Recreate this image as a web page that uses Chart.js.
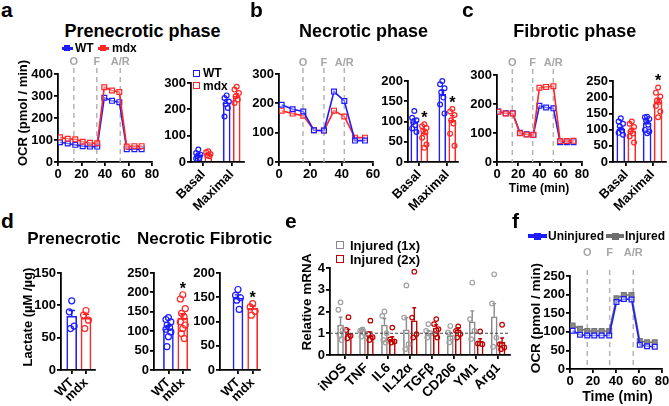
<!DOCTYPE html>
<html>
<head>
<meta charset="utf-8">
<script src="https://cdn.jsdelivr.net/npm/chart.js@4.4.0/dist/chart.umd.min.js"></script>
<style>
html, body { margin: 0; padding: 0; background: #fff; overflow: hidden; }
#fig { position: relative; width: 669px; height: 406px; overflow: hidden; }
#fig canvas { position: absolute; }
.t { position: absolute; white-space: nowrap; line-height: 1; }
.m { position: absolute; box-sizing: border-box; }
</style>
</head>
<body>
<div id="fig"></div>
<script>
// ---------- data ----------
const injectLabels = ['O', 'F', 'A/R'];
const phases = ['Basal', 'Maximal'];
const genotypes = ['WT', 'mdx'];

// a  prenecrotic
const aTime = [1.7, 8.3, 14.7, 21, 27.2, 33.4, 39.4, 46, 52.2, 58.5, 65, 71.2];
const aWT   = [90, 84, 78, 72, 70, 70, 292, 278, 272, 58, 58, 58];
const aMdx  = [112, 106, 103, 92, 87, 85, 340, 325, 318, 70, 72, 72];
const aInject = [13.5, 33, 53];
const aBarWT = [28, 225], aSemWT = [5, 12];
const aBarMdx = [31, 250], aSemMdx = [3, 9];
const aPtsWT = [[47, 34, 28, 22, 15, 13], [253, 243, 230, 220, 205, 173]];
const aPtsMdx = [[41, 37, 30, 25, 22], [286, 275, 262, 249, 237, 224]];

// b  necrotic
const bTime = [1.7, 8.7, 15.5, 22.3, 28.7, 35.1, 41.7, 48.5, 54.9];
const bWT   = [195, 180, 172, 108, 107, 240, 208, 73, 73];
const bMdx  = [175, 165, 158, 108, 107, 175, 155, 83, 83];
const bInject = [15.3, 28.7, 41.7];
const bBarWT = [100, 167], bSemWT = [6, 10];
const bBarMdx = [72, 103], bSemMdx = [8, 12];
const bPtsWT = [[126, 109, 103, 99, 91, 83, 74], [200, 192, 182, 172, 159, 142, 120]];
const bPtsMdx = [[93, 88, 84, 78, 73, 60, 43, 35], [131, 125, 116, 103, 95, 70, 40]];
const bStars = [true, true];

// c  fibrotic
const cTime = [1.2, 8.2, 14.8, 21.6, 27.9, 34.2, 39.9, 46.2, 53.1, 59.4, 65.7, 72];
const cWT   = [174, 168, 168, 101, 96, 94, 194, 188, 185, 68, 68, 68];
const cMdx  = [173, 167, 167, 99, 95, 93, 256, 259, 261, 72, 72, 73];
const cInject = [14.4, 33.6, 53];
const cBarWT = [101, 120], cSemWT = [6, 7];
const cBarMdx = [96, 186], cSemMdx = [8, 10];
const cPtsWT = [[135, 125, 118, 110, 97, 90, 84], [140, 138, 133, 128, 115, 99, 94, 89]];
const cPtsMdx = [[125, 118, 108, 94, 88, 79, 60], [230, 214, 202, 190, 186, 173, 156, 138]];
const cStars = [false, true];

// d  lactate
const dPreBar = [83, 80], dPreSem = [9, 6];
const dPreWT = [107, 90, 68, 64], dPreMdx = [92, 85, 77, 64];
const dNecBar = [106, 134], dNecSem = [8, 11];
const dNecWT = [135, 130, 124, 116, 110, 105, 98, 86, 60];
const dNecMdx = [194, 183, 158, 146, 137, 124, 116, 107, 94, 81];
const dFibBar = [148, 127], dFibSem = [7, 5];
const dFibWT = [166, 154, 149, 144, 125], dFibMdx = [137, 130, 121, 113];

// e  relative mRNA
const eCats = ['iNOS', 'TNF', 'IL6', 'IL12α', 'TGFβ', 'CD206', 'YM1', 'Arg1'];
const e1Mean = [1.38, 1.18, 1.38, 1.16, 1.0, 0.89, 1.53, 1.76];
const e1Sem  = [0.36, 0.08, 0.3, 0.55, 0.12, 0.15, 0.5, 0.6];
const e2Mean = [0.97, 0.88, 0.72, 1.57, 1.24, 1.16, 0.63, 0.58];
const e2Sem  = [0.2, 0.18, 0.12, 0.6, 0.15, 0.1, 0.12, 0.2];
const e1Pts = [[2.42, 2.08, 1.15, 0.92, 0.69], [1.18, 1.12, 1.0, 0.85], [2.0, 1.8, 1.0, 0.69, 0.57],
               [3.2, 1.72, 0.5, 0.27], [1.42, 1.11, 1.0, 0.8], [1.33, 1.04, 0.8, 0.58],
               [3.33, 1.65, 1.11, 0.73], [3.71, 2.37, 0.8, 0.38]];
const e2Pts = [[1.74, 1.15, 0.88, 0.77], [1.58, 0.97, 0.82, 0.69], [1.26, 0.72, 0.62, 0.57],
               [3.83, 1.72, 0.96, 0.8], [1.65, 1.42, 1.19, 0.96, 0.8], [1.31, 1.11, 0.96, 0.8],
               [1.08, 0.53, 0.5], [1.39, 0.5, 0.35, 0.27]];

// f  uninjured vs injured
const fTime = [2.3, 8.7, 15, 21.1, 27.5, 34.1, 40.4, 46.8, 53.5, 60.7, 67, 73.7];
const fUninj = [103, 92, 90, 90, 90, 90, 180, 188, 187, 65, 61, 60];
const fInj   = [117, 108, 102, 102, 102, 102, 190, 199, 199, 75, 72, 72];
const fInject = [15, 34.5, 55];

// ---------- styling ----------
const FONT = '"Liberation Sans", Arial, Helvetica, sans-serif';
const BLUE = '#1c1cff', RED = '#ff2626', GRAY = '#8a8a8a', DRED = '#c00000';
const JIT = [0, -1, 1, -0.5, 0.5, -1, 1, 0, -0.6, 0.6];

Chart.defaults.font.family = FONT;
Chart.defaults.font.weight = 'bold';
Chart.defaults.font.size = 13;
Chart.defaults.color = '#000';

const fig = document.getElementById('fig');

// dashed injection lines, error bars, stars, reference line
Chart.register({
  id: 'extras',
  beforeDatasetsDraw(chart, args, o) {
    if (!o.vlines) return;
    const ctx = chart.ctx, ca = chart.chartArea, x = chart.scales.x;
    ctx.save();
    ctx.strokeStyle = '#b4b4b4'; ctx.lineWidth = 1.5; ctx.setLineDash([5, 4]);
    ctx.fillStyle = '#a6a6a6'; ctx.font = 'bold 11px ' + FONT;
    ctx.textAlign = 'center'; ctx.textBaseline = 'middle';
    o.vlines.xs.forEach((v, i) => {
      const px = x.getPixelForValue(v);
      ctx.beginPath(); ctx.moveTo(px, ca.top - 6); ctx.lineTo(px, ca.bottom); ctx.stroke();
      ctx.fillText(o.vlines.labels[i], px, ca.top - o.vlines.lift);
    });
    ctx.restore();
  },
  afterDatasetDraw(chart, args) {
    const ds = chart.data.datasets[args.index];
    if (!ds.sem) return;
    const ctx = chart.ctx, y = chart.scales.y;
    ctx.save();
    ctx.strokeStyle = ds.borderColor; ctx.lineWidth = 1.4;
    args.meta.data.forEach((el, i) => {
      const top = y.getPixelForValue(ds.data[i].y + ds.sem[i]);
      const w = ds.barThickness * 0.32;
      ctx.beginPath();
      ctx.moveTo(el.x, el.y); ctx.lineTo(el.x, top);
      ctx.moveTo(el.x - w, top); ctx.lineTo(el.x + w, top);
      ctx.stroke();
    });
    ctx.restore();
  },
  afterDatasetsDraw(chart, args, o) {
    const ctx = chart.ctx, ca = chart.chartArea, y = chart.scales.y;
    ctx.save();
    if (o.hline !== undefined) {
      const py = y.getPixelForValue(o.hline);
      ctx.strokeStyle = '#444'; ctx.lineWidth = 1; ctx.setLineDash([3, 2]);
      ctx.beginPath(); ctx.moveTo(ca.left, py); ctx.lineTo(ca.right, py); ctx.stroke();
      ctx.setLineDash([]);
    }
    ctx.fillStyle = '#000'; ctx.font = 'bold 16px ' + FONT;
    ctx.textAlign = 'center'; ctx.textBaseline = 'alphabetic';
    chart.data.datasets.forEach((ds, di) => {
      if (!ds.stars) return;
      const meta = chart.getDatasetMeta(di);
      ds.stars.forEach((s, i) => {
        if (!s) return;
        const top = Math.max(ds.data[i].y + ds.sem[i], ...ds.pts[i]);
        ctx.fillText('*', meta.data[i].x, y.getPixelForValue(top) - 1);
      });
    });
    ctx.restore();
  }
});

function axis(min, max, step, more) {
  return Object.assign({
    type: 'linear', min: min, max: max, offset: false,
    ticks: { stepSize: step, padding: 1, autoSkip: false },
    grid: { drawOnChartArea: false, drawTicks: true, tickLength: 4, color: '#000', lineWidth: 1.8, offset: false },
    border: { display: true, color: '#000', width: 1.8 }
  }, more || {});
}

// box = plot area [left, top, right, bottom] in page pixels
function place(box, cfg, o) {
  o = o || {};
  const padT = o.padT || 32, padR = o.padR || 14, yw = o.yw || 36, xh = o.xh || 60;
  const l = Math.round(box[0]), t = Math.round(box[1]), r = Math.round(box[2]), b = Math.round(box[3]);
  const cv = document.createElement('canvas');
  cv.width = r - l + yw + padR;
  cv.height = b - t + padT + xh;
  cv.style.left = (l - yw) + 'px';
  cv.style.top = (t - padT) + 'px';
  fig.appendChild(cv);
  const op = cfg.options;
  op.responsive = false;
  op.animation = false;
  op.devicePixelRatio = 1;
  op.layout = { padding: { top: padT, right: padR, left: 0, bottom: 0 } };
  op.plugins = Object.assign({ legend: { display: false }, tooltip: { enabled: false } }, op.plugins);
  op.scales.x.afterFit = s => { s.height = xh; };
  op.scales.y.afterFit = s => { s.width = yw; };
  return new Chart(cv, cfg);
}

function lineChart(box, xMax, yMax, yStep, times, series, inject, lift) {
  return place(box, {
    type: 'line',
    data: { datasets: series.map(s => ({
      data: times.map((t, i) => ({ x: t, y: s.vals[i] })),
      borderColor: s.color, borderWidth: 1.6, tension: 0,
      pointStyle: 'rect', pointRadius: 3.4, pointBorderWidth: 1.2,
      pointBorderColor: s.pcolor || s.color, pointBackgroundColor: s.fill
    })) },
    options: {
      scales: { x: axis(0, xMax, 20), y: axis(0, yMax, yStep) },
      plugins: { extras: { vlines: { xs: inject, labels: injectLabels, lift: lift } } }
    }
  }, { xh: 28 });
}

function barChart(box, xMax, tickPos, tickLabels, yMax, yStep, bars, o) {
  const datasets = [];
  bars.forEach(bs => {
    datasets.push({
      type: 'bar', order: 2, grouped: false,
      data: bs.pos.map((x, i) => ({ x: x, y: bs.means[i] })),
      sem: bs.sem, stars: bs.stars, pts: bs.pts,
      backgroundColor: '#fff', borderColor: bs.color, borderWidth: 1.6, barThickness: o.thick
    });
    const pd = [];
    bs.pts.forEach((arr, g) => arr.forEach((v, k) => pd.push({ x: bs.pos[g] + JIT[k % JIT.length] * o.jit, y: v })));
    datasets.push({
      type: 'scatter', order: 1, data: pd, clip: false,
      pointStyle: 'circle', pointRadius: o.r, pointBorderWidth: 1.2,
      pointBorderColor: bs.ptColor || bs.color, pointBackgroundColor: 'rgba(255,255,255,0)'
    });
  });
  return place(box, {
    type: 'bar',
    data: { datasets: datasets },
    options: {
      scales: {
        x: axis(0, xMax, 1, {
          afterBuildTicks: s => { s.ticks = tickPos.map(v => ({ value: v })); },
          ticks: { autoSkip: false, minRotation: 45, maxRotation: 45, padding: 1,
                   font: { size: o.fs || 13 }, callback: (v, i) => tickLabels[i] }
        }),
        y: axis(0, yMax, yStep)
      },
      plugins: { extras: { hline: o.hline } }
    }
  });
}

// ---------- row 1 ----------
lineChart([58, 73.5, 152, 162], 80, 400, 100, aTime,
  [{ vals: aMdx, color: RED, fill: 'rgba(255,255,255,0.4)' }, { vals: aWT, color: BLUE, fill: 'rgba(255,255,255,0.4)' }],
  aInject, 12);

const aG = [1.23, 4.07];
barChart([191, 83.3, 244, 162], 5.3, aG, phases, 300, 100, [
  { pos: aG.map(c => c - 0.5), means: aBarWT, sem: aSemWT, pts: aPtsWT, color: BLUE },
  { pos: aG.map(c => c + 0.5), means: aBarMdx, sem: aSemMdx, pts: aPtsMdx, color: RED }
], { thick: 7, jit: 0.22, r: 2.4 });

lineChart([279, 74, 373, 162], 60, 300, 100, bTime,
  [{ vals: bWT, color: BLUE, fill: 'rgba(255,255,255,0.4)' }, { vals: bMdx, color: RED, fill: 'rgba(255,255,255,0.4)' }],
  bInject, 11);

const bG = [1.13, 3.93];
barChart([408, 81, 458, 162], 5.0, bG, phases, 200, 50, [
  { pos: bG.map(c => c - 0.5), means: bBarWT, sem: bSemWT, pts: bPtsWT, color: BLUE },
  { pos: bG.map(c => c + 0.5), means: bBarMdx, sem: bSemMdx, pts: bPtsMdx, color: RED, stars: bStars }
], { thick: 7, jit: 0.22, r: 2.4 });

lineChart([497, 75, 582, 162], 80, 300, 100, cTime,
  [{ vals: cMdx, color: RED, fill: 'rgba(255,255,255,0.4)' }, { vals: cWT, color: BLUE, fill: 'rgba(255,255,255,0.4)' }],
  cInject, 12);

const cG = [1.33, 3.96];
barChart([613, 81, 666, 162], 5.3, cG, phases, 250, 50, [
  { pos: cG.map(c => c - 0.55), means: cBarWT, sem: cSemWT, pts: cPtsWT, color: BLUE },
  { pos: cG.map(c => c + 0.55), means: cBarMdx, sem: cSemMdx, pts: cPtsMdx, color: RED, stars: cStars }
], { thick: 8, jit: 0.22, r: 2.4 });

// ---------- row 2 ----------
barChart([61, 273, 95, 370], 2.38, [0.75, 1.75], genotypes, 150, 50, [
  { pos: [0.75], means: [dPreBar[0]], sem: [dPreSem[0]], pts: [dPreWT], color: BLUE },
  { pos: [1.75], means: [dPreBar[1]], sem: [dPreSem[1]], pts: [dPreMdx], color: RED }
], { thick: 10, jit: 0.17, r: 3 });

barChart([154, 273, 190, 370], 2.5, [1.0, 2.0], genotypes, 250, 50, [
  { pos: [1.0], means: [dNecBar[0]], sem: [dNecSem[0]], pts: [dNecWT], color: BLUE },
  { pos: [2.0], means: [dNecBar[1]], sem: [dNecSem[1]], pts: [dNecMdx], color: RED, stars: [true] }
], { thick: 10, jit: 0.17, r: 3 });

barChart([220, 273, 260, 370], 2.78, [1.25, 2.27], genotypes, 200, 50, [
  { pos: [1.25], means: [dFibBar[0]], sem: [dFibSem[0]], pts: [dFibWT], color: BLUE },
  { pos: [2.27], means: [dFibBar[1]], sem: [dFibSem[1]], pts: [dFibMdx], color: RED, stars: [true] }
], { thick: 10, jit: 0.17, r: 3 });

const eG = eCats.map((c, i) => 0.66 + i);
barChart([329.5, 268.3, 510, 355], 8.2, eG, eCats, 4, 1, [
  { pos: eG.map(c => c - 0.18), means: e1Mean, sem: e1Sem, pts: e1Pts, color: GRAY, ptColor: '#a0a0a0' },
  { pos: eG.map(c => c + 0.18), means: e2Mean, sem: e2Sem, pts: e2Pts, color: DRED }
], { thick: 6, jit: 0.1, r: 2.3, fs: 13.5, hline: 1 });

lineChart([570, 276, 662, 369.3], 80, 250, 50, fTime,
  [{ vals: fUninj, color: BLUE, fill: 'rgba(255,255,255,0.5)' }, { vals: fInj, color: '#6e6e6e', pcolor: '#777', fill: '#8a8a8a' }],
  fInject, 23);

// ---------- text and keys ----------
function txt(s, x, y, size, o) {
  o = o || {};
  const d = document.createElement('div');
  d.className = 't';
  d.textContent = s;
  d.style.font = 'bold ' + size + 'px ' + FONT;
  d.style.color = o.color || '#000';
  d.style.left = x + 'px';
  d.style.top = y + 'px';
  let tr = o.align === 'left' ? 'translate(0,-50%)' : 'translate(-50%,-50%)';
  if (o.rot) tr += ' rotate(' + o.rot + 'deg)';
  d.style.transform = tr;
  fig.appendChild(d);
}
function box(x, y, w, h, css) {
  const d = document.createElement('div');
  d.className = 'm';
  d.style.cssText = 'left:' + x + 'px;top:' + y + 'px;width:' + w + 'px;height:' + h + 'px;' + css;
  fig.appendChild(d);
}
function lineKey(cx, cy, color, w, th, sq) {
  box(cx - w / 2, cy - th / 2, w, th, 'background:' + color);
  box(cx - sq / 2, cy - sq / 2, sq, sq, 'background:' + color);
}
function squareKey(cx, cy, color, s) {
  box(cx - s / 2, cy - s / 2, s, s, 'border:1.8px solid ' + color);
}

// panel letters
txt('a', 1, 10, 21, { align: 'left' });
txt('b', 250, 10, 21, { align: 'left' });
txt('c', 462, 10, 21, { align: 'left' });
txt('d', 1, 220.5, 21, { align: 'left' });
txt('e', 285, 220.5, 21, { align: 'left' });
txt('f', 512, 220.5, 21, { align: 'left' });

// titles
txt('Prenecrotic phase', 142.5, 30.6, 18);
txt('Necrotic phase', 363.5, 30.6, 18);
txt('Fibrotic phase', 574.7, 30.6, 18);
txt('Prenecrotic', 74, 239, 17);
txt('Necrotic', 171, 239, 17);
txt('Fibrotic', 241, 239, 17);

// axis titles
txt('OCR (pmol / min)', 21.7, 113, 13, { rot: -90 });
txt('Time (min)', 539, 188, 12);
txt('Lactate (µM /µg)', 27, 317, 13, { rot: -90 });
txt('Relative mRNA', 306, 301.5, 13.5, { rot: -90 });
txt('OCR (pmol / min)', 535, 318, 13.5, { rot: -90 });
txt('Time (min)', 617.5, 395.5, 14);

// legends
lineKey(67, 48, BLUE, 11, 3, 6); txt('WT', 75, 48, 12, { align: 'left' });
lineKey(103, 48, RED, 11, 3, 6); txt('mdx', 112, 48, 12, { align: 'left' });
squareKey(196, 73.3, BLUE, 7); txt('WT', 203, 73.3, 12, { align: 'left' });
squareKey(196, 85.7, RED, 7); txt('mdx', 203, 85.7, 12, { align: 'left' });
squareKey(340, 245, GRAY, 8); txt('Injured (1x)', 350, 245, 13, { align: 'left' });
squareKey(340, 259.3, DRED, 8); txt('Injured (2x)', 350, 259.3, 13, { align: 'left' });
lineKey(537.5, 236, BLUE, 19, 4, 7); txt('Uninjured', 548, 236, 12, { align: 'left' });
lineKey(615, 236, '#6e6e6e', 18, 4, 7); txt('Injured', 625, 236, 12, { align: 'left' });
</script>
</body>
</html>
